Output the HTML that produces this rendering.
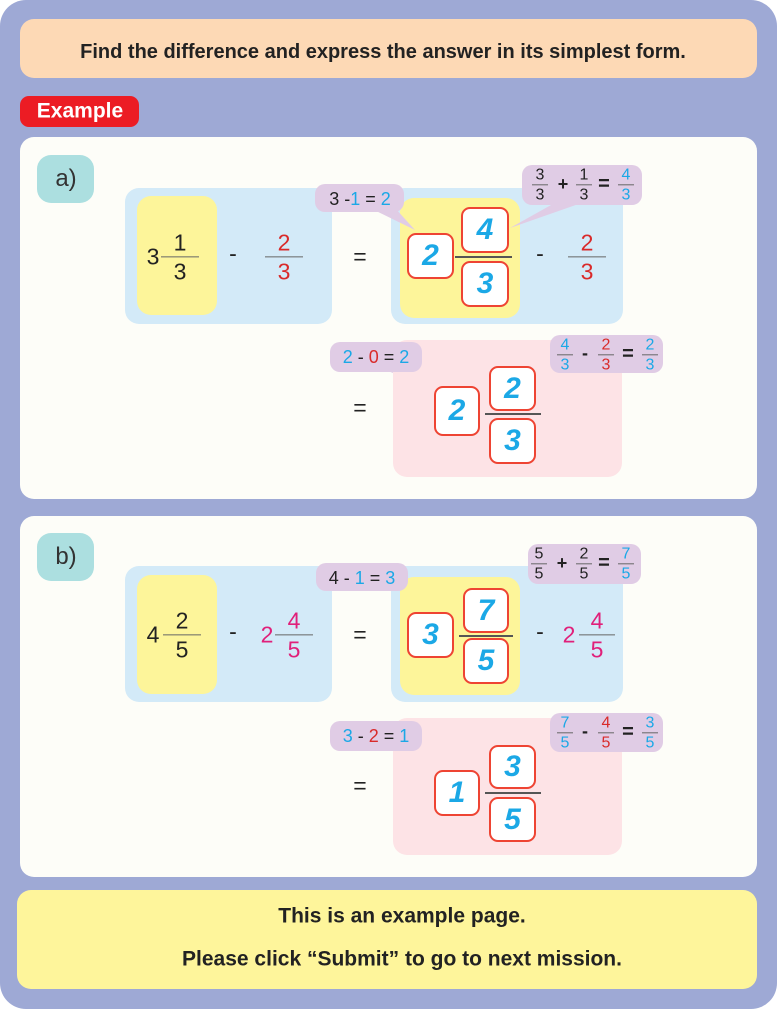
<!DOCTYPE html>
<html><head><meta charset="utf-8"><style>
*{margin:0;padding:0;box-sizing:border-box}
body{width:777px;height:1009px;background:#fff;position:relative;overflow:hidden;font-family:"Liberation Sans",sans-serif;color:#222}
.a{position:absolute}
.r{position:absolute;border-radius:14px}
.t{position:absolute;transform:translate(-50%,-50%);white-space:nowrap;line-height:1}
.f{position:absolute;display:flex;flex-direction:column;align-items:center;transform:translate(-50%,-50%);line-height:1.05}
.f i{display:block;height:1px;background:#666;margin:2px 0}
.rb{position:absolute;border:2px solid #ee4433;background:#fff;border-radius:9px;display:flex;align-items:center;justify-content:center;font-style:italic;font-weight:bold;font-size:30px;color:#1ba8e6}
.co{position:absolute;background:#e0cce5;border-radius:10px}
.B{color:#1ba8e6}.R{color:#d92a2a}.P{color:#e0207a}
.big{font-size:23px}
.sm{font-size:16px;line-height:0.95}
</style></head><body>
<div class="r" style="left:0;top:0;width:777px;height:1009px;background:#9ea9d5;border-radius:26px"></div>
<div class="r" style="left:20px;top:19px;width:737px;height:59px;background:#fdd9b5"></div>
<div class="t" style="left:383px;top:52px;font-size:20px;font-weight:bold;color:#222">Find the difference and express the answer in its simplest form.</div>
<div class="r" style="left:20px;top:96px;width:119px;height:31px;background:#ec1c24;border-radius:9px"></div>
<div class="t" style="left:80px;top:111px;font-size:21px;font-weight:bold;color:#fff">Example</div>

<!-- panel a -->
<div class="r" style="left:20px;top:137px;width:737px;height:362px;background:#fdfdf8"></div>
<div class="r" style="left:37px;top:155px;width:57px;height:48px;background:#acdfe0"></div>
<div class="t" style="left:66px;top:179px;font-size:24px;color:#333">a)</div>
<div class="r" style="left:125px;top:188px;width:207px;height:136px;background:#d3eaf8"></div>
<div class="r" style="left:137px;top:196px;width:80px;height:119px;background:#fdf59a"></div>
<div class="t big" style="left:153px;top:257px">3</div>
<div class="f big" style="left:180px;top:257px"><span>1</span><i style="width:38px"></i><span>3</span></div>
<div class="t big" style="left:233px;top:254px">-</div>
<div class="f big R" style="left:284px;top:257px"><span>2</span><i style="width:38px"></i><span>3</span></div>
<div class="t big" style="left:360px;top:257px">=</div>
<div class="r" style="left:391px;top:188px;width:232px;height:136px;background:#d3eaf8"></div>
<div class="r" style="left:400px;top:198px;width:120px;height:120px;background:#fdf59a"></div>
<svg class="a" style="left:0;top:0" width="777" height="1009">
<polygon points="370,208 395,208 415,230" fill="#e0cce5"/>
<polygon points="560,200 590,200 510,228" fill="#e0cce5"/>
<polygon points="380,368 405,368 432,388" fill="#e0cce5"/>
<polygon points="570,370 600,370 538,395" fill="#e0cce5"/>
<polygon points="370,586 395,586 418,606" fill="#e0cce5"/>
<polygon points="560,578 590,578 512,607" fill="#e0cce5"/>
<polygon points="380,748 405,748 434,768" fill="#e0cce5"/>
<polygon points="570,750 600,750 538,774" fill="#e0cce5"/>
</svg>
<div class="co" style="left:315px;top:184px;width:89px;height:28px"></div>
<div class="t" style="left:360px;top:199px;font-size:18px">3 -<span class="B">1</span> = <span class="B">2</span></div>
<div class="co" style="left:522px;top:165px;width:120px;height:40px"></div>
<div class="f sm" style="left:540px;top:185px"><span>3</span><i style="width:16px"></i><span>3</span></div>
<div class="t" style="left:563px;top:184px;font-size:18px;font-weight:bold">+</div>
<div class="f sm" style="left:584px;top:185px"><span>1</span><i style="width:16px"></i><span>3</span></div>
<div class="t" style="left:604px;top:184px;font-size:20px;font-weight:bold">=</div>
<div class="f sm B" style="left:626px;top:185px"><span>4</span><i style="width:16px"></i><span>3</span></div>
<div class="rb" style="left:407px;top:233px;width:47px;height:46px">2</div>
<div class="rb" style="left:461px;top:207px;width:48px;height:46px">4</div>
<div class="rb" style="left:461px;top:261px;width:48px;height:46px">3</div>
<div class="a" style="left:455px;top:256px;width:57px;height:2px;background:#555"></div>
<div class="t big" style="left:540px;top:254px">-</div>
<div class="f big R" style="left:587px;top:257px"><span>2</span><i style="width:38px"></i><span>3</span></div>

<div class="t big" style="left:360px;top:408px">=</div>
<div class="r" style="left:393px;top:340px;width:229px;height:137px;background:#fde3e6"></div>
<div class="co" style="left:330px;top:342px;width:92px;height:30px"></div>
<div class="t" style="left:376px;top:357px;font-size:18px"><span class="B">2</span> - <span class="R">0</span> = <span class="B">2</span></div>
<div class="co" style="left:550px;top:335px;width:113px;height:38px"></div>
<div class="f sm B" style="left:565px;top:355px"><span>4</span><i style="width:16px"></i><span>3</span></div>
<div class="t" style="left:585px;top:353px;font-size:18px;font-weight:bold">-</div>
<div class="f sm R" style="left:606px;top:355px"><span>2</span><i style="width:16px"></i><span>3</span></div>
<div class="t" style="left:628px;top:354px;font-size:20px;font-weight:bold">=</div>
<div class="f sm B" style="left:650px;top:355px"><span>2</span><i style="width:16px"></i><span>3</span></div>
<div class="rb" style="left:434px;top:386px;width:46px;height:50px">2</div>
<div class="rb" style="left:489px;top:366px;width:47px;height:45px">2</div>
<div class="rb" style="left:489px;top:418px;width:47px;height:46px">3</div>
<div class="a" style="left:485px;top:413px;width:56px;height:2px;background:#555"></div>

<!-- panel b -->
<div class="r" style="left:20px;top:516px;width:737px;height:361px;background:#fdfdf8"></div>
<div class="r" style="left:37px;top:533px;width:57px;height:48px;background:#acdfe0"></div>
<div class="t" style="left:66px;top:557px;font-size:24px;color:#333">b)</div>
<div class="r" style="left:125px;top:566px;width:207px;height:136px;background:#d3eaf8"></div>
<div class="r" style="left:137px;top:575px;width:80px;height:119px;background:#fdf59a"></div>
<div class="t big" style="left:153px;top:635px">4</div>
<div class="f big" style="left:182px;top:635px"><span>2</span><i style="width:38px"></i><span>5</span></div>
<div class="t big" style="left:233px;top:632px">-</div>
<div class="t big P" style="left:267px;top:635px">2</div>
<div class="f big P" style="left:294px;top:635px"><span>4</span><i style="width:38px"></i><span>5</span></div>
<div class="t big" style="left:360px;top:635px">=</div>
<div class="r" style="left:391px;top:566px;width:232px;height:136px;background:#d3eaf8"></div>
<div class="r" style="left:400px;top:577px;width:120px;height:118px;background:#fdf59a"></div>
<div class="co" style="left:316px;top:563px;width:92px;height:28px"></div>
<div class="t" style="left:362px;top:578px;font-size:18px">4 - <span class="B">1</span> = <span class="B">3</span></div>
<div class="co" style="left:528px;top:544px;width:113px;height:40px"></div>
<div class="f sm" style="left:539px;top:564px"><span>5</span><i style="width:16px"></i><span>5</span></div>
<div class="t" style="left:562px;top:563px;font-size:18px;font-weight:bold">+</div>
<div class="f sm" style="left:584px;top:564px"><span>2</span><i style="width:16px"></i><span>5</span></div>
<div class="t" style="left:604px;top:563px;font-size:20px;font-weight:bold">=</div>
<div class="f sm B" style="left:626px;top:564px"><span>7</span><i style="width:16px"></i><span>5</span></div>
<div class="rb" style="left:407px;top:612px;width:47px;height:46px">3</div>
<div class="rb" style="left:463px;top:588px;width:46px;height:45px">7</div>
<div class="rb" style="left:463px;top:638px;width:46px;height:46px">5</div>
<div class="a" style="left:459px;top:635px;width:54px;height:2px;background:#555"></div>
<div class="t big" style="left:540px;top:632px">-</div>
<div class="t big P" style="left:569px;top:635px">2</div>
<div class="f big P" style="left:597px;top:635px"><span>4</span><i style="width:36px"></i><span>5</span></div>

<div class="t big" style="left:360px;top:786px">=</div>
<div class="r" style="left:393px;top:718px;width:229px;height:137px;background:#fde3e6"></div>
<div class="co" style="left:330px;top:721px;width:92px;height:30px"></div>
<div class="t" style="left:376px;top:736px;font-size:18px"><span class="B">3</span> - <span class="R">2</span> = <span class="B">1</span></div>
<div class="co" style="left:550px;top:713px;width:113px;height:39px"></div>
<div class="f sm B" style="left:565px;top:733px"><span>7</span><i style="width:16px"></i><span>5</span></div>
<div class="t" style="left:585px;top:731px;font-size:18px;font-weight:bold">-</div>
<div class="f sm R" style="left:606px;top:733px"><span>4</span><i style="width:16px"></i><span>5</span></div>
<div class="t" style="left:628px;top:732px;font-size:20px;font-weight:bold">=</div>
<div class="f sm B" style="left:650px;top:733px"><span>3</span><i style="width:16px"></i><span>5</span></div>
<div class="rb" style="left:434px;top:770px;width:46px;height:46px">1</div>
<div class="rb" style="left:489px;top:745px;width:47px;height:44px">3</div>
<div class="rb" style="left:489px;top:797px;width:47px;height:45px">5</div>
<div class="a" style="left:485px;top:792px;width:56px;height:2px;background:#555"></div>

<!-- bottom -->
<div class="r" style="left:17px;top:890px;width:740px;height:99px;background:#fef59b"></div>
<div class="t" style="left:402px;top:916px;font-size:21px;font-weight:bold">This is an example page.</div>
<div class="t" style="left:402px;top:959px;font-size:21px;font-weight:bold">Please click “Submit” to go to next mission.</div>
</body></html>
